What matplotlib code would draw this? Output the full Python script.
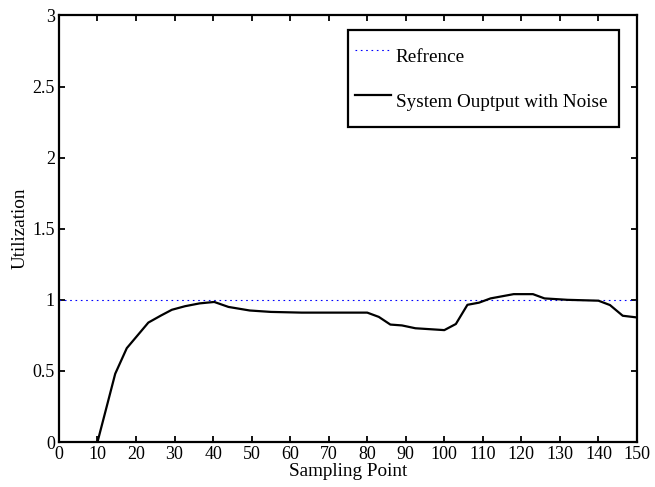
import matplotlib
matplotlib.use("Agg")
import matplotlib.pyplot as plt

# valores
sample_x = [10, 12.4, 14.6, 17.6, 23.2, 26.5, 29.3, 32.7, 36.5, 40.3, 44, 49.5, 55, 63,
            80, 83, 86, 89, 92.5, 100, 103, 106, 109, 112, 115, 118, 123, 126, 132,
            140, 143, 146.3, 150]
output_y = [0, 0.25, 0.48, 0.66, 0.84, 0.89, 0.93, 0.955, 0.975, 0.985, 0.95, 0.925, 0.915, 0.91,
            0.91, 0.88, 0.826, 0.82, 0.80, 0.787, 0.83, 0.965, 0.98, 1.01, 1.025, 1.04, 1.04, 1.01, 1.0,
            0.994, 0.963, 0.888, 0.876]
ref_x = [0, 150]
ref_y = [1, 1]
x_ticks = list(range(0, 151, 10))
y_ticks = [0, 0.5, 1, 1.5, 2, 2.5, 3]
y_ticklabels = ['0', '0.5', '1', '1.5', '2', '2.5', '3']

plt.rcParams['font.family'] = ['Liberation Serif', 'DejaVu Serif']

fig = plt.figure(figsize=(6.55, 4.87), dpi=100)
ax = fig.add_axes([0.090, 0.0924, 0.8825, 0.8758])

ax.plot(ref_x, ref_y, color='#0000ff', linewidth=0.8, linestyle=(0, (1.5, 3.3)), label='Refrence')
ax.plot(sample_x, output_y, color='black', linewidth=1.6, label='System Ouptput with Noise')

ax.set_xlim(0, 150)
ax.set_ylim(0, 3)
ax.set_xticks(x_ticks)
ax.set_yticks(y_ticks)
ax.set_yticklabels(y_ticklabels)
ax.tick_params(direction='in', length=4, width=1.3, top=True, right=True,
               labelsize=13, pad=3)
for s in ax.spines.values():
    s.set_linewidth(1.6)

ax.set_xlabel('Sampling Point', fontsize=13.8, labelpad=0)
ax.set_ylabel('Utilization', fontsize=13.8, labelpad=3)

# linhas mais altas para imitar o espacamento da legenda do MATLAB
leg = ax.legend(loc='upper left', bbox_to_anchor=(0.5, 0.5, 0.469, 0.466), mode='expand',
                fontsize=13.8, frameon=True, fancybox=False, borderaxespad=0, framealpha=1,
                handlelength=1.84, handleheight=2.56, handletextpad=0.26,
                borderpad=0.39, labelspacing=0.45)
leg.get_frame().set_edgecolor('black')
leg.get_frame().set_linewidth(1.6)

plt.savefig('out.png', dpi=100)
plt.close()
